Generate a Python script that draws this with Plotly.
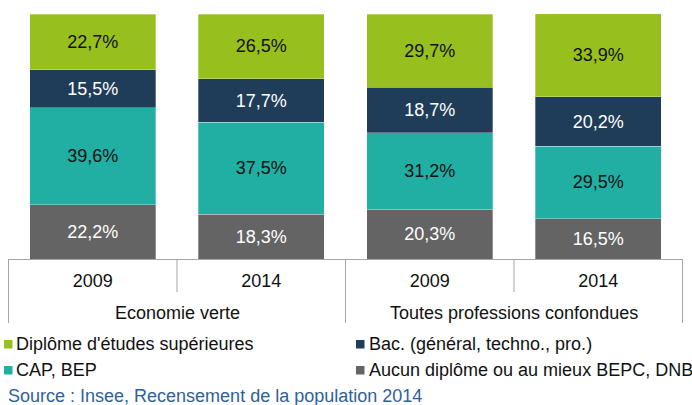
import plotly.graph_objects as go

groups = ["Economie verte", "Toutes professions confondues"]
years = ["2009", "2014", "2009", "2014"]
bar_group = [0, 0, 1, 1]

aucun = [22.2, 18.3, 20.3, 16.5]
cap_bep = [39.6, 37.5, 31.2, 29.5]
bac = [15.5, 17.7, 18.7, 20.2]
superieur = [22.7, 26.5, 29.7, 33.9]

series = [
    ("Aucun diplôme ou au mieux BEPC, DNB", aucun, "#646464", "white"),
    ("CAP, BEP", cap_bep, "#20AFA2", "#111111"),
    ("Bac. (général, techno., pro.)", bac, "#1F3D58", "white"),
    ("Diplôme d'études supérieures", superieur, "#97BF1E", "#111111"),
]

FONT = "Liberation Sans, Arial, sans-serif"
FS = 18
LINE = "#A6A6A6"

# pixel helpers (plot area: x 8..683, y 14..259)
def px_x(p):
    return (p - 8) / 675

def px_y(p):
    return (259 - p) / 245

keys = [f"{groups[g]} {y}" for g, y in zip(bar_group, years)]

fig = go.Figure()
for name, vals, color, txt_color in series:
    fig.add_trace(go.Bar(
        x=keys,
        y=vals,
        name=name,
        marker=dict(color=color, line=dict(color="rgba(255,255,255,0.5)", width=0.6)),
        text=[f"{v:.1f}%".replace(".", ",") for v in vals],
        textposition="inside",
        insidetextanchor="middle",
        textangle=0,
        textfont=dict(family=FONT, size=FS, color=txt_color),
        showlegend=False,
        hoverinfo="skip",
    ))

shapes = []
# dividers between years (short) and between groups / at ends (long)
for xb, depth in [(-0.5, 323), (0.5, 292), (1.5, 323), (2.5, 292), (3.5, 323)]:
    shapes.append(dict(type="line", xref="x", yref="paper", x0=xb, x1=xb,
                       y0=0, y1=px_y(depth), line=dict(color=LINE, width=1)))

annotations = []
for i, g in enumerate(groups):
    annotations.append(dict(
        text=g, xref="x", yref="paper", x=2 * i + 0.5, y=px_y(313),
        xanchor="center", yanchor="middle", showarrow=False,
        font=dict(family=FONT, size=FS, color="#111111"),
    ))

# legend, two columns
legend_rows = [
    (series[3], 14, 344, 4, 340),
    (series[2], 367, 344, 356, 340),
    (series[1], 14, 370, 4, 366),
    (series[0], 367, 370, 356, 366),
]
for (name, _, color, _), tx, ty, sx, sy in legend_rows:
    shapes.append(dict(type="rect", xref="paper", yref="paper",
                       x0=px_x(sx), x1=px_x(sx + 8.5), y0=px_y(sy), y1=px_y(sy + 8.5),
                       fillcolor=color, line=dict(width=0)))
    annotations.append(dict(
        text=name, xref="paper", yref="paper", x=px_x(tx), y=px_y(ty),
        xanchor="left", yanchor="middle", showarrow=False,
        font=dict(family=FONT, size=FS, color="#111111"),
    ))

annotations.append(dict(
    text="Source : Insee, Recensement de la population 2014",
    xref="paper", yref="paper", x=px_x(6), y=px_y(396),
    xanchor="left", yanchor="middle", showarrow=False,
    font=dict(family=FONT, size=FS, color="#2F6199"),
))

fig.update_layout(
    barmode="stack",
    bargap=0.253,
    width=692,
    height=405,
    margin=dict(l=8, r=9, t=14, b=146, autoexpand=False),
    plot_bgcolor="white",
    paper_bgcolor="white",
    font=dict(family=FONT, size=FS, color="#111111"),
    uniformtext=dict(mode="show", minsize=FS),
    showlegend=False,
    shapes=shapes,
    annotations=annotations,
)

fig.update_xaxes(
    type="category",
    tickvals=keys, ticktext=years,
    showline=True, linecolor=LINE, linewidth=1,
    ticks="", ticklabelstandoff=5,
    tickfont=dict(family=FONT, size=FS, color="#111111"),
    showgrid=False, fixedrange=True,
)
fig.update_yaxes(range=[0, 100], visible=False, showgrid=False, fixedrange=True)

# the page's default body margin would shift the figure by 8px
fig.write_html("out.html", config={"displayModeBar": False},
               post_script="document.body.style.margin='0';")
